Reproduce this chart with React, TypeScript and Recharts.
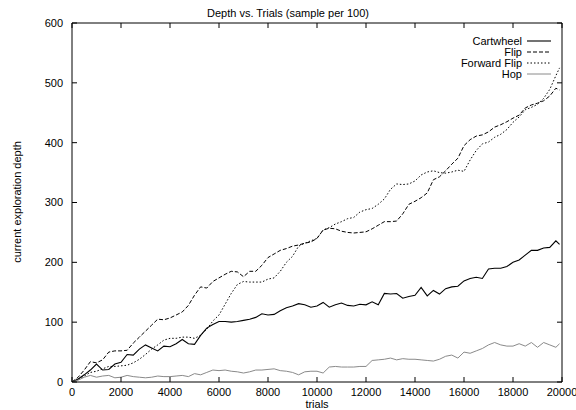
import React from 'react';
import { LineChart, Line, XAxis, YAxis, ReferenceLine } from 'recharts';

const trials = [
  0, 250, 500, 750, 1000, 1250, 1500, 1750, 2000, 2250,
  2500, 2750, 3000, 3250, 3500, 3750, 4000, 4250, 4500, 4750,
  5000, 5250, 5500, 5750, 6000, 6250, 6500, 6750, 7000, 7250,
  7500, 7750, 8000, 8250, 8500, 8750, 9000, 9250, 9500, 9750,
  10000, 10250, 10500, 10750, 11000, 11250, 11500, 11750, 12000, 12250,
  12500, 12750, 13000, 13250, 13500, 13750, 14000, 14250, 14500, 14750,
  15000, 15250, 15500, 15750, 16000, 16250, 16500, 16750, 17000, 17250,
  17500, 17750, 18000, 18250, 18500, 18750, 19000, 19250, 19500, 19750,
  19900,
];

const cartwheel = [
  0, 5, 12, 20, 30, 20, 21, 30, 33, 46,
  45, 55, 62, 57, 52, 60, 59, 64, 71, 64,
  63, 78, 90, 96, 101, 101, 100, 101, 103, 105,
  108, 114, 112, 113, 119, 124, 127, 131, 129, 125,
  127, 133, 125, 129, 132, 128, 127, 130, 129, 134,
  129, 148, 147, 148, 140, 143, 145, 158, 144, 153,
  147, 156, 159, 160, 169, 173, 175, 173, 189, 190,
  190, 193, 200, 204, 212, 220, 220, 224, 225, 236,
  230,
];

const flip = [
  0, 8, 20, 34, 32, 37, 50, 52, 52, 53,
  65, 75, 85, 95, 105, 104, 107, 112, 117, 128,
  145, 159, 157, 168, 174, 180, 185, 184, 176, 185,
  185, 195, 208, 214, 220, 223, 227, 229, 232, 234,
  240, 254, 257, 256, 252, 250, 249, 250, 251, 256,
  262, 268, 268, 269, 281, 297, 302, 308, 316, 338,
  343, 353, 364, 374, 395, 405, 411, 413, 418, 426,
  430, 435, 441, 446, 458, 463, 466, 470, 478, 491,
  488,
];

const forwardFlip = [
  0, 4, 10, 16, 18, 22, 26, 26, 27, 28,
  32, 38, 46, 55, 62, 70, 73, 73, 75, 75,
  73, 78, 88, 102, 112, 130, 148, 163, 168, 167,
  167, 167, 172, 174, 185, 200, 210, 227, 232, 236,
  240, 254, 258, 264, 268, 273, 275, 284, 288, 290,
  297, 306, 322, 331, 330, 331, 336, 346, 351, 353,
  350, 349, 351, 354, 352, 371, 387, 398, 401, 409,
  414, 422, 434, 443, 455, 459, 464, 474, 489, 512,
  525,
];

const hop = [
  0, 3, 8, 11, 8, 10, 11, 7, 8, 11,
  9, 8, 7, 8, 10, 9, 9, 10, 11, 9,
  14, 12, 16, 20, 19, 20, 18, 17, 15, 17,
  20, 20, 21, 22, 19, 18, 16, 12, 17, 18,
  18, 15, 25, 26, 25, 25, 25, 26, 26, 36,
  37, 38, 40, 37, 39, 38, 38, 37, 36, 35,
  38, 43, 45, 40, 50, 48, 52, 56, 62, 66,
  62, 60, 60, 64, 60, 66, 58, 66, 62, 58,
  64,
];

const xTicks = [0, 2000, 4000, 6000, 8000, 10000, 12000, 14000, 16000, 18000, 20000];
const yTicks = [0, 100, 200, 300, 400, 500, 600];

const seriesNames = ['Cartwheel', 'Flip', 'Forward Flip', 'Hop'];

const data = trials.map((t, i) => ({
  trials: t,
  cartwheel: cartwheel[i],
  flip: flip[i],
  forwardFlip: forwardFlip[i],
  hop: hop[i],
}));

const W = 576;
const H = 410;
const LEFT = 72;
const RIGHT = 562;
const TOP = 23;
const BOTTOM = 382;
const FONT = '"Liberation Sans", Arial, Helvetica, sans-serif';
const FS = 11;
const TICK = 5;

const styles = [
  { key: 'cartwheel', stroke: '#000', width: 1.1, dash: undefined as string | undefined },
  { key: 'flip', stroke: '#000', width: 1, dash: '4 2' },
  { key: 'forwardFlip', stroke: '#000', width: 1, dash: '1.5 2' },
  { key: 'hop', stroke: '#8a8a8a', width: 1, dash: undefined as string | undefined },
];

const XTick = (props: any) => {
  const { x, payload } = props;
  return (
    <g>
      <line x1={x} x2={x} y1={BOTTOM} y2={BOTTOM - TICK} stroke="#000" strokeWidth={1} />
      <line x1={x} x2={x} y1={TOP} y2={TOP + TICK} stroke="#000" strokeWidth={1} />
      <text x={x} y={BOTTOM + 14} textAnchor="middle" fontSize={FS} fontFamily={FONT} fill="#000">
        {payload.value}
      </text>
    </g>
  );
};

const YTick = (props: any) => {
  const { y, payload } = props;
  return (
    <g>
      <line x1={LEFT} x2={LEFT + TICK} y1={y} y2={y} stroke="#000" strokeWidth={1} />
      <line x1={RIGHT} x2={RIGHT - TICK} y1={y} y2={y} stroke="#000" strokeWidth={1} />
      <text x={LEFT - 9} y={y} dy="0.35em" textAnchor="end" fontSize={FS} fontFamily={FONT} fill="#000">
        {payload.value}
      </text>
    </g>
  );
};

export default function App() {
  const legendRows = [41, 52, 63, 74];
  return (
    <div style={{ position: 'absolute', left: 0, top: 0, width: W, height: H, background: '#fff' }}>
      <LineChart
        width={W}
        height={H}
        data={data}
        margin={{ top: TOP, right: W - RIGHT, bottom: 0, left: 0 }}
      >
        <XAxis
          dataKey="trials"
          type="number"
          domain={[0, 20000]}
          ticks={xTicks}
          interval={0}
          height={H - BOTTOM}
          axisLine={{ stroke: '#000', strokeWidth: 1 }}
          tickLine={false}
          tick={<XTick />}
          allowDataOverflow
        />
        <YAxis
          type="number"
          domain={[0, 600]}
          ticks={yTicks}
          interval={0}
          width={LEFT}
          axisLine={{ stroke: '#000', strokeWidth: 1 }}
          tickLine={false}
          tick={<YTick />}
          allowDataOverflow
        />
        <ReferenceLine y={600} stroke="#000" strokeWidth={1} />
        <ReferenceLine x={20000} stroke="#000" strokeWidth={1} />
        {styles.map((s) => (
          <Line
            key={s.key}
            type="linear"
            dataKey={s.key}
            stroke={s.stroke}
            strokeWidth={s.width}
            strokeDasharray={s.dash}
            dot={false}
            activeDot={false}
            isAnimationActive={false}
          />
        ))}
      </LineChart>
      <svg
        width={W}
        height={H}
        style={{ position: 'absolute', left: 0, top: 0, pointerEvents: 'none' }}
      >
        <text x={288} y={17} textAnchor="middle" fontSize={FS} fontFamily={FONT} fill="#000">
          Depth vs. Trials (sample per 100)
        </text>
        <text x={317} y={408} textAnchor="middle" fontSize={FS} fontFamily={FONT} fill="#000">
          trials
        </text>
        <text
          transform="translate(21,202) rotate(-90)"
          textAnchor="middle"
          fontSize={FS}
          fontFamily={FONT}
          fill="#000"
        >
          current exploration depth
        </text>
        {seriesNames.map((name, i) => (
          <g key={name}>
            <text
              x={522}
              y={legendRows[i]}
              dy="0.35em"
              textAnchor="end"
              fontSize={FS}
              fontFamily={FONT}
              fill="#000"
            >
              {name}
            </text>
            <line
              x1={527}
              x2={551}
              y1={legendRows[i]}
              y2={legendRows[i]}
              stroke={styles[i].stroke}
              strokeWidth={styles[i].width}
              strokeDasharray={styles[i].dash}
            />
          </g>
        ))}
      </svg>
    </div>
  );
}
